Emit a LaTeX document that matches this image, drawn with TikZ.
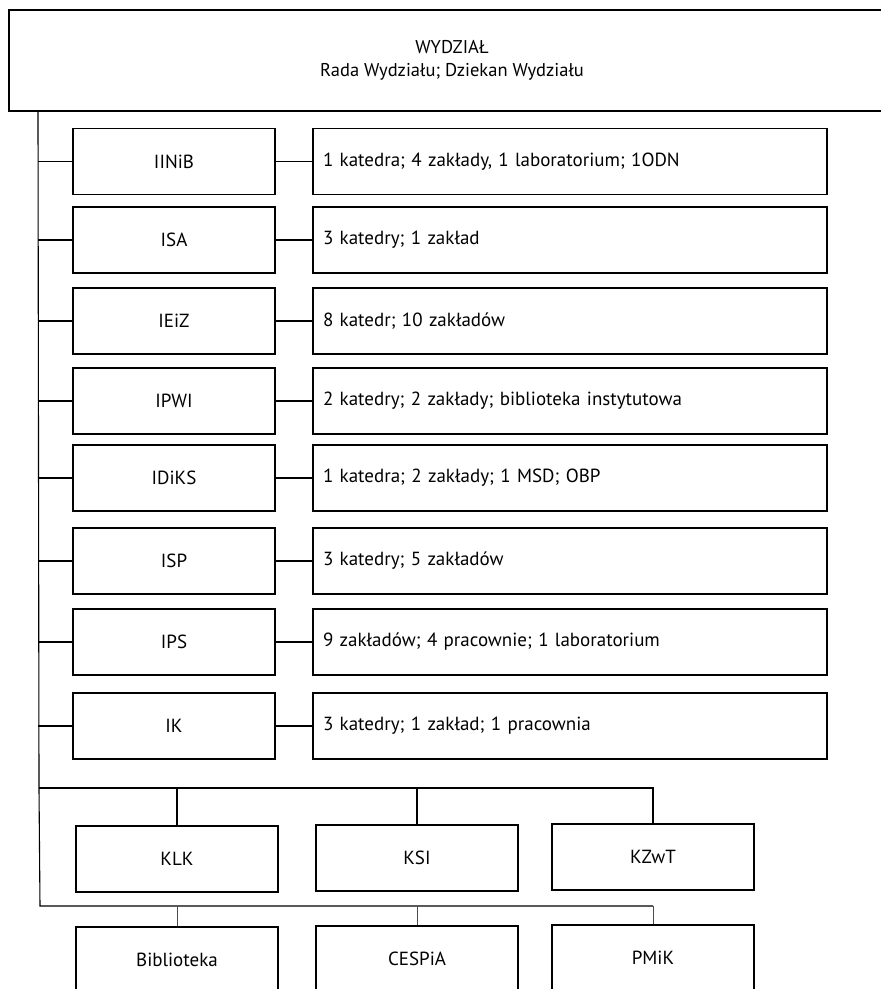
\documentclass[tikz,border=0pt]{standalone}
\usepackage{fontspec}
\setmainfont{PT Sans}
\begin{document}
\begin{tikzpicture}[x=1pt,y=-1pt,
  line width=1.1pt,
  lbox/.style={draw, line width=1.1pt, minimum width=202pt, minimum height=66pt, inner sep=0pt, font=\fontsize{19}{22}\selectfont},
  rbox/.style={draw, line width=1.1pt, minimum width=514pt, minimum height=66pt, text width=494pt, align=left, inner sep=0pt, font=\fontsize{19}{22}\selectfont},
  topbox/.style={draw, line width=1.1pt, minimum width=886pt, minimum height=101pt, align=center, inner sep=0pt, font=\fontsize{18.5}{23}\selectfont},
  conn/.style={line width=1.1pt},
  tick/.style={line width=0.6pt, black!70}]
\useasboundingbox[fill=white] (0,0) rectangle (881,989);
\node[topbox] (wydz) at (452,60.5) {WYDZIAŁ\\Rada Wydziału; Dziekan Wydziału};
\coordinate (trunkTop) at (38,111);
\coordinate (trunkMid) at (39,788);
\coordinate (trunkBot) at (40,906);
\coordinate (hA) at (653,788);
\coordinate (hB) at (653,906);

\node[lbox] (i1) at (174,161.5) {IINiB};
\node[rbox] (r1) at (570,161.5) {1 katedra; 4 zakłady, 1 laboratorium; 1ODN};
\node[lbox] (i2) at (174,240) {ISA};
\node[rbox] (r2) at (570,240) {3 katedry; 1 zakład};
\node[lbox] (i3) at (174,321) {IEiZ};
\node[rbox] (r3) at (570,321) {8 katedr; 10 zakładów};
\node[lbox] (i4) at (174,401) {IPWI};
\node[rbox] (r4) at (570,401) {2 katedry; 2 zakłady; biblioteka instytutowa};
\node[lbox] (i5) at (174,478) {IDiKS};
\node[rbox] (r5) at (570,478) {1 katedra; 2 zakłady; 1 MSD; OBP};
\node[lbox] (i6) at (174,561) {ISP};
\node[rbox] (r6) at (570,561) {3 katedry; 5 zakładów};
\node[lbox] (i7) at (174,642) {IPS};
\node[rbox] (r7) at (570,642) {9 zakładów; 4 pracownie; 1 laboratorium};
\node[lbox] (i8) at (174,726) {IK};
\node[rbox] (r8) at (570,726) {3 katedry; 1 zakład; 1 pracownia};

\node[lbox] (klk) at (177,859) {KLK};
\node[lbox] (ksi) at (417,858) {KSI};
\node[lbox] (kzwt) at (653,857) {KZwT};
\node[lbox] (bib) at (177,960) {Biblioteka};
\node[lbox] (ces) at (417,959) {CESPiA};
\node[lbox] (pmik) at (653,958) {PMiK};

\draw[conn] (trunkTop) -- (trunkMid) -- (trunkBot) -- (hB);
\draw[conn] (trunkMid) -- (hA) -- (kzwt.north);
\foreach \n in {1,...,8} {
  \draw[conn] (i\n.west -| trunkTop) -- (i\n.west);
  \draw[conn] (i\n.east) -- (r\n.west);
}
\draw[conn] (klk.north |- hA) -- (klk.north);
\draw[conn] (ksi.north |- hA) -- (ksi.north);
\draw[tick] (bib.north |- hB) -- (bib.north);
\draw[tick] (ces.north |- hB) -- (ces.north);
\draw[tick] (hB) -- (pmik.north);
\end{tikzpicture}
\end{document}
